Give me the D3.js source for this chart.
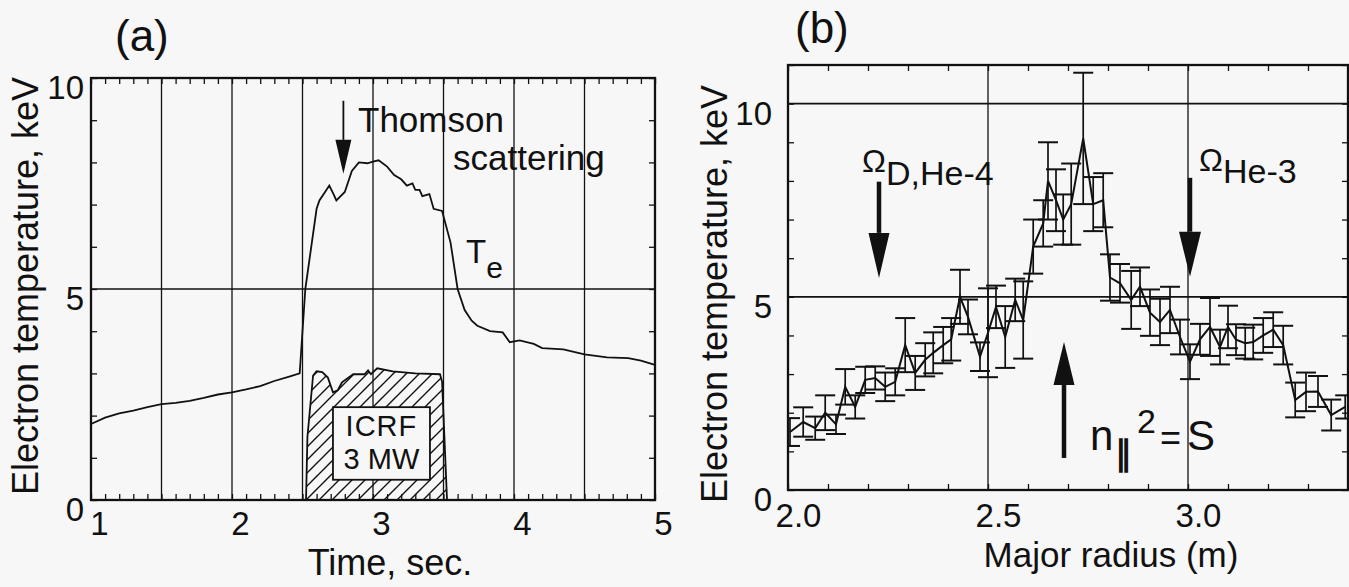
<!DOCTYPE html>
<html>
<head>
<meta charset="utf-8">
<script src="https://cdn.jsdelivr.net/npm/d3@7"></script>
<style>
  body { margin: 0; background: #f7f7f7; }
  svg { display: block; font-family: "Liberation Sans", Arial, Helvetica, sans-serif; }
</style>
</head>
<body>
<svg id="fig" width="1349" height="587"></svg>
<script>
// ---- panel (a): electron temperature vs time
var teTime = [1.0, 1.1, 1.2, 1.3, 1.4, 1.5, 1.6, 1.7, 1.8, 1.9, 2.0, 2.1, 2.2, 2.3, 2.4, 2.48, 2.52, 2.6, 2.62, 2.66,
  2.69, 2.72, 2.74, 2.8, 2.85, 2.9, 2.96, 3.0, 3.04, 3.1, 3.15, 3.2, 3.24, 3.28, 3.3, 3.33, 3.35, 3.4, 3.43, 3.49,
  3.55, 3.6, 3.65, 3.7, 3.74, 3.83, 3.92, 3.97, 4.04, 4.14, 4.2, 4.35, 4.5, 4.66, 4.81, 4.9, 5.0];
var teA = [1.8, 1.95, 2.05, 2.12, 2.2, 2.27, 2.3, 2.35, 2.42, 2.5, 2.55, 2.62, 2.7, 2.82, 2.92, 3.0, 5.0, 6.9, 7.1, 7.3,
  7.45, 7.25, 7.1, 7.3, 7.8, 8.0, 7.98, 8.02, 8.05, 7.9, 7.7, 7.6, 7.45, 7.5, 7.35, 7.35, 7.2, 7.25, 6.9, 6.85,
  6.1, 5.0, 4.5, 4.25, 4.13, 4.0, 3.97, 3.74, 3.78, 3.7, 3.6, 3.57, 3.45, 3.38, 3.36, 3.3, 3.2];

// ICRF power waveform (drawn on the same vertical scale)
var icrfTime = [2.525, 2.535, 2.575, 2.6, 2.64, 2.68, 2.716, 2.75, 2.78, 2.86, 2.94, 2.965, 2.985, 3.03, 3.14, 3.3, 3.475, 3.49, 3.525];
var icrfLevel = [0, 1.5, 2.95, 3.05, 3.03, 2.9, 2.55, 2.6, 2.79, 2.98, 2.98, 3.07, 2.98, 3.12, 3.05, 3.0, 2.98, 2.8, 0];

var xTicksA = [1, 2, 3, 4, 5];
var yTicksA = [0, 5, 10];
var xGridA = [1.5, 2, 2.5, 3, 3.5, 4, 4.5];
var yGridA = [5];

// ---- panel (b): electron temperature profile vs major radius
var radiusB = [2.005, 2.038, 2.068, 2.093, 2.12, 2.143, 2.168, 2.193, 2.218, 2.243,
  2.268, 2.293, 2.318, 2.343, 2.363, 2.388, 2.408, 2.43, 2.45, 2.48,
  2.5, 2.52, 2.543, 2.568, 2.588, 2.613, 2.638, 2.65, 2.67, 2.688,
  2.708, 2.738, 2.763, 2.788, 2.805, 2.83, 2.858, 2.88, 2.905, 2.93,
  2.955, 2.98, 3.005, 3.03, 3.055, 3.08, 3.1, 3.12, 3.143, 3.163,
  3.188, 3.213, 3.238, 3.268, 3.295, 3.325, 3.358, 3.393];
var teB = [1.5, 1.76, 1.6, 2.0, 1.7, 2.67, 2.15, 2.85, 2.9, 2.67,
  2.8, 3.75, 3.03, 3.37, 3.55, 3.75, 3.9, 5.0, 4.48, 3.45,
  4.07, 4.74, 3.96, 4.92, 4.4, 6.3, 6.9, 8.0, 7.5, 7.0,
  7.4, 9.1, 7.4, 7.5, 5.5, 5.35, 4.92, 5.26, 4.59, 4.35,
  4.66, 3.96, 3.32, 3.9, 4.22, 3.7, 4.22, 3.89, 3.8, 3.83,
  4.0, 4.15, 3.75, 2.33, 2.54, 2.55, 1.94, 2.15];
var errB = [0.36, 0.38, 0.3, 0.45, 0.25, 0.46, 0.3, 0.34, 0.3, 0.37,
  0.35, 0.7, 0.44, 0.43, 0.53, 0.47, 0.55, 0.7, 0.45, 0.37,
  1.15, 0.55, 0.8, 0.55, 1.0, 0.7, 0.6, 1.0, 0.8, 0.65,
  1.05, 1.7, 0.7, 0.7, 0.6, 0.5, 0.75, 0.5, 0.6, 0.6,
  0.6, 0.45, 0.45, 0.4, 0.75, 0.45, 0.55, 0.4, 0.4, 0.45,
  0.45, 0.45, 0.5, 0.45, 0.5, 0.4, 0.4, 0.3];

var xTicksB = [2.0, 2.5, 3.0];
var yTicksB = [0, 5, 10];
var xGridB = [2.5, 3.0];
var yGridB = [5, 10];

var svg = d3.select("#fig");
var ink = "#111";

svg.append("rect").attr("width", 1349).attr("height", 587).attr("fill", "#f7f7f7");

var defs = svg.append("defs");
defs.append("pattern")
  .attr("id", "hatch")
  .attr("patternUnits", "userSpaceOnUse")
  .attr("width", 13).attr("height", 13)
  .append("path")
  .attr("d", "M-3,3 l6,-6 M0,13 l13,-13 M10,16 l6,-6")
  .attr("stroke", ink).attr("stroke-width", 1.4);

// draws frame, grid, inward minor ticks and tick labels for one panel
function drawFrame(g, x, y, o) {
  var x0 = x.range()[0], x1 = x.range()[1];
  var y0 = y.range()[0], y1 = y.range()[1];

  g.selectAll(".gx").data(o.xGrid).enter().append("line")
    .attr("x1", x).attr("x2", x).attr("y1", y0).attr("y2", y1)
    .attr("stroke", ink).attr("stroke-width", 1.3);
  g.selectAll(".gy").data(o.yGrid).enter().append("line")
    .attr("x1", x0).attr("x2", x1).attr("y1", y).attr("y2", y)
    .attr("stroke", ink).attr("stroke-width", 1.7);

  // minor ticks, pointing inwards on all four sides
  var mb = d3.axisBottom(x).tickValues(o.xMinor).tickSize(-6).tickFormat("");
  var mt = d3.axisTop(x).tickValues(o.xMinor).tickSize(-6).tickFormat("");
  var ml = d3.axisLeft(y).tickValues(o.yMinor).tickSize(-6).tickFormat("");
  var mr = d3.axisRight(y).tickValues(o.yMinor).tickSize(-6).tickFormat("");
  [[mb, "translate(0," + y0 + ")"], [mt, "translate(0," + y1 + ")"],
   [ml, "translate(" + x0 + ",0)"], [mr, "translate(" + x1 + ",0)"]].forEach(function (a) {
    var ax = g.append("g").attr("transform", a[1]).call(a[0]);
    ax.select(".domain").remove();
    ax.selectAll("line").attr("stroke", ink).attr("stroke-width", 1.3);
  });

  g.append("rect")
    .attr("x", x0).attr("y", y1).attr("width", x1 - x0).attr("height", y0 - y1)
    .attr("fill", "none").attr("stroke", ink).attr("stroke-width", 2.3);

  // tick labels
  var lb = g.append("g").attr("transform", "translate(0," + y0 + ")")
    .call(d3.axisBottom(x).tickValues(o.xTicks).tickSize(0).tickPadding(o.xPad).tickFormat(o.xFmt));
  lb.select(".domain").remove();
  lb.selectAll("text").attr("dx", o.xDx).style("font-size", "33px").attr("fill", ink)
    .style("font-family", "'Liberation Sans', Arial, sans-serif");

  var ll = g.append("g").attr("transform", "translate(" + x0 + ",0)")
    .call(d3.axisLeft(y).tickValues(o.yTicks).tickSize(0).tickPadding(o.yPad));
  ll.select(".domain").remove();
  ll.selectAll("text").attr("dy", "0.62em").style("font-size", "33px").attr("fill", ink)
    .style("font-family", "'Liberation Sans', Arial, sans-serif");
}

function arrow(g, xp, yTail, yTip, shaft, headLen, headW) {
  var dir = yTip > yTail ? 1 : -1;
  var yBase = yTip - dir * headLen;
  g.append("line").attr("x1", xp).attr("x2", xp).attr("y1", yTail).attr("y2", yBase)
    .attr("stroke", ink).attr("stroke-width", shaft);
  g.append("path")
    .attr("d", "M" + (xp - headW / 2) + "," + yBase + "L" + (xp + headW / 2) + "," + yBase + "L" + xp + "," + yTip + "Z")
    .attr("fill", ink);
}

// ================= panel (a)
var xA = d3.scaleLinear().domain([1, 5]).range([91, 655]);
var yA = d3.scaleLinear().domain([0, 10]).range([500, 78]);
var gA = svg.append("g");

drawFrame(gA, xA, yA, {
  xGrid: xGridA, yGrid: yGridA,
  xMinor: d3.range(10, 51).map(function (d) { return d / 10; }),
  yMinor: d3.range(0, 11),
  xTicks: xTicksA, yTicks: yTicksA,
  xPad: 12, xDx: 8, yPad: 7, xFmt: d3.format("d")
});

// ICRF hatched waveform
var icrf = icrfTime.map(function (t, i) { return [t, icrfLevel[i]]; });
gA.append("path")
  .datum(icrf)
  .attr("d", d3.line().x(function (d) { return xA(d[0]); }).y(function (d) { return yA(d[1]); }))
  .attr("fill", "url(#hatch)").attr("stroke", ink).attr("stroke-width", 1.8);

gA.append("rect")
  .attr("x", xA(2.716)).attr("y", yA(2.2))
  .attr("width", xA(3.404) - xA(2.716)).attr("height", yA(0.48) - yA(2.2))
  .attr("fill", "#f7f7f7").attr("stroke", ink).attr("stroke-width", 1.8);
gA.append("text").attr("x", xA(3.06)).attr("y", 436).attr("text-anchor", "middle")
  .style("font-size", "29px").style("letter-spacing", "1px").attr("fill", ink).text("ICRF");
gA.append("text").attr("x", xA(3.06)).attr("y", 469).attr("text-anchor", "middle")
  .style("font-size", "29px").attr("fill", ink).text("3 MW");

// Te trace
var te = teTime.map(function (t, i) { return [t, teA[i]]; });
gA.append("path")
  .datum(te)
  .attr("d", d3.line().x(function (d) { return xA(d[0]); }).y(function (d) { return yA(d[1]); }))
  .attr("fill", "none").attr("stroke", ink).attr("stroke-width", 1.8);

// Thomson scattering marker
arrow(gA, xA(2.79), yA(9.46), yA(7.73), 1.8, 34, 16);
gA.append("text").attr("x", 358).attr("y", 132).style("font-size", "35px").attr("fill", ink).text("Thomson");
gA.append("text").attr("x", 453).attr("y", 170).style("font-size", "35px").attr("fill", ink).text("scattering");

var teLab = gA.append("text").attr("x", 466).attr("y", 263).attr("fill", ink).style("font-size", "33px");
teLab.append("tspan").text("T");
teLab.append("tspan").attr("dy", 15).style("font-size", "30px").text("e");

gA.append("text").attr("x", 115).attr("y", 51).style("font-size", "44px").attr("fill", ink).text("(a)");
gA.append("text").attr("transform", "translate(38,286) rotate(-90)").attr("text-anchor", "middle")
  .style("font-size", "36px").attr("fill", ink).text("Electron temperature, keV");
gA.append("text").attr("x", 390).attr("y", 575).attr("text-anchor", "middle")
  .style("font-size", "36px").attr("fill", ink).text("Time, sec.");

// ================= panel (b)
var xB = d3.scaleLinear().domain([2.0, 3.4]).range([788, 1348]);
var yB = d3.scaleLinear().domain([0, 11]).range([490, 65]);
var gB = svg.append("g");

drawFrame(gB, xB, yB, {
  xGrid: xGridB, yGrid: yGridB,
  xMinor: d3.range(20, 35).map(function (d) { return d / 10; }),
  yMinor: d3.range(0, 12),
  xTicks: xTicksB, yTicks: yTicksB,
  xPad: 14, xDx: 10, yPad: 16, xFmt: d3.format(".1f")
});

defs.append("clipPath").attr("id", "clipB").append("rect")
  .attr("x", 788).attr("y", 65).attr("width", 561).attr("height", 425);

var prof = radiusB.map(function (r, i) { return { r: r, t: teB[i], e: errB[i] }; });
var gP = gB.append("g").attr("clip-path", "url(#clipB)");
var bars = gP.selectAll(".eb").data(prof).enter().append("g");
bars.append("line")
  .attr("x1", function (d) { return xB(d.r); }).attr("x2", function (d) { return xB(d.r); })
  .attr("y1", function (d) { return yB(d.t - d.e); }).attr("y2", function (d) { return yB(d.t + d.e); })
  .attr("stroke", ink).attr("stroke-width", 1.7);
[-1, 1].forEach(function (s) {
  bars.append("line")
    .attr("x1", function (d) { return xB(d.r) - 10; }).attr("x2", function (d) { return xB(d.r) + 10; })
    .attr("y1", function (d) { return yB(d.t + s * d.e); }).attr("y2", function (d) { return yB(d.t + s * d.e); })
    .attr("stroke", ink).attr("stroke-width", 2);
});
gP.append("path")
  .datum(prof)
  .attr("d", d3.line().x(function (d) { return xB(d.r); }).y(function (d) { return yB(d.t); }))
  .attr("fill", "none").attr("stroke", ink).attr("stroke-width", 2);

// resonance markers
arrow(gB, xB(2.2275), yB(7.98), yB(5.49), 4.5, 45, 21);
arrow(gB, xB(3.005), yB(8.08), yB(5.52), 4.5, 45, 22);
arrow(gB, xB(2.69), yB(0.83), yB(3.83), 4.5, 43, 21);

var om1 = gB.append("text").attr("x", 862).attr("y", 172).attr("fill", ink).style("font-size", "32px");
om1.append("tspan").text("\u03A9");
om1.append("tspan").attr("dy", 13).style("font-size", "34px").text("D,He-4");

var om2 = gB.append("text").attr("x", 1199).attr("y", 171).attr("fill", ink).style("font-size", "32px");
om2.append("tspan").text("\u03A9");
om2.append("tspan").attr("dy", 12).style("font-size", "34px").text("He-3");

var npar = gB.append("text").attr("x", 1090).attr("y", 450).attr("fill", ink).style("font-size", "42px");
npar.append("tspan").text("n");
npar.append("tspan").attr("x", 1115).attr("dy", 15).style("font-size", "34px").style("font-weight", "bold").text("\u2225");
npar.append("tspan").attr("x", 1137).attr("dy", -32).style("font-size", "34px").text("2");
npar.append("tspan").attr("x", 1160).attr("dy", 17).style("font-size", "36px").text("=");
npar.append("tspan").attr("x", 1187).text("S");

gB.append("text").attr("x", 795).attr("y", 43).style("font-size", "44px").attr("fill", ink).text("(b)");
gB.append("text").attr("transform", "translate(727,294) rotate(-90)").attr("text-anchor", "middle")
  .style("font-size", "36px").attr("fill", ink).text("Electron temperature, keV");
gB.append("text").attr("x", 1111).attr("y", 567).attr("text-anchor", "middle")
  .style("font-size", "35px").attr("fill", ink).text("Major radius (m)");
</script>
</body>
</html>
